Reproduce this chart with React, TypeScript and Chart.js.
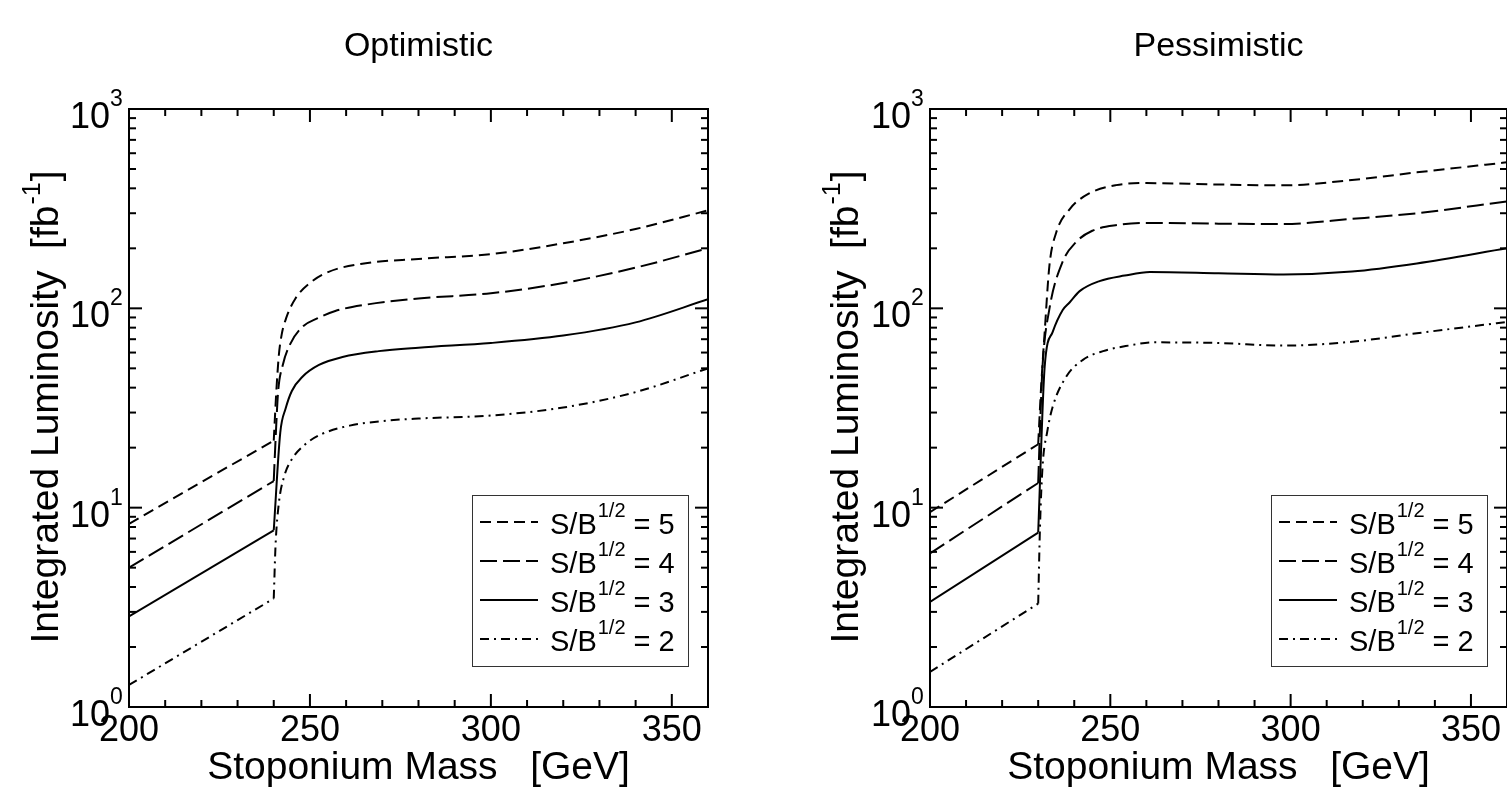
import React, { useEffect, useRef } from 'react';
import { Chart, registerables } from 'chart.js';

Chart.register(...registerables);

// ---- text / labels ----
const panelTitles = ['Optimistic', 'Pessimistic'];
const sbValues = ['5', '4', '3', '2'];
const xTickValues = [200, 250, 300, 350];
const xTickLabels = ['200', '250', '300', '350'];
const yTickExponents = [0, 1, 2, 3];
const xTitle = 'Stoponium Mass   [GeV]';
const yTitleMain = 'Integrated Luminosity  [fb';
const yTitleSup = '-1';

// ---- Optimistic panel (threshold near 240 GeV) ----
const optX5 = [200, 240, 240.7, 241.4, 242.2, 243.5, 246, 250, 255, 264, 280, 300, 320, 340, 360];
const optY5 = [8.3, 21.7, 38, 58, 74, 90, 112, 134, 152, 167, 177, 187, 212, 250, 310];
const optX4 = [200, 240, 240.6, 241.2, 242.5, 244.5, 248, 252, 257, 265, 280, 300, 320, 340, 360];
const optY4 = [5.0, 13.6, 24, 38, 52, 66, 81, 89, 97, 104, 112, 119, 134, 160, 200];
const optX3 = [200, 240, 241.8, 243.3, 245, 248, 252.5, 259, 269, 280, 300, 320, 340, 360];
const optY3 = [2.85, 7.7, 23.8, 31.5, 38.5, 45.5, 52, 57, 61, 63.5, 67, 73, 85, 111];
const optX2 = [200, 240, 240.5, 241.4, 242.8, 245, 249, 253.5, 261, 270, 280, 300, 320, 340, 360];
const optY2 = [1.29, 3.5, 6.5, 10.5, 14.2, 17.5, 21, 23.5, 25.8, 27.2, 28, 29, 31.8, 38, 50];

// ---- Pessimistic panel (threshold near 230 GeV) ----
const pesX5 = [200, 230, 230.8, 231.8, 233.1, 235, 238.7, 244, 251.6, 260, 280, 298, 317, 335, 360];
const pesY5 = [9.5, 20.8, 40, 76, 163, 240, 314, 376, 415, 425, 418, 414, 440, 481, 540];
const pesX4 = [200, 230, 230.6, 231.2, 233.1, 236.7, 240.5, 245, 252, 260, 280, 298, 317, 335, 360];
const pesY4 = [5.9, 13.3, 28, 51, 99, 170, 215, 245, 262, 268, 266, 265, 281, 300, 344];
const pesX3 = [200, 230, 231.8, 234, 236.8, 238.7, 241.5, 247, 254, 261, 280, 298, 317, 335, 360];
const pesY3 = [3.37, 7.5, 51, 76, 98, 107, 122, 137, 146, 152, 150, 148, 153, 168, 200];
const pesX2 = [200, 230, 230.5, 231.2, 232.5, 234, 237.8, 242.3, 248, 255, 262, 280, 298, 317, 335, 360];
const pesY2 = [1.5, 3.3, 8, 16, 24, 32, 45.5, 55, 61, 65, 67.5, 67, 65, 68, 75, 85.5];

const dashStyles: number[][] = [[11, 6], [17, 6], [], [9, 5, 2, 5]];

const FONT = '"Liberation Sans", Arial, Helvetica, sans-serif';

function makeDatasets(xs: number[][], ys: number[][]) {
  const out: any[] = [];
  xs.forEach((xArr, i) => {
    const pts = xArr.map((x, j) => ({ x, y: ys[i][j] }));
    const common = {
      borderColor: '#000',
      borderWidth: 2,
      borderDash: dashStyles[i],
      pointRadius: 0,
      fill: false,
    };
    // straight rise below threshold
    out.push({ ...common, label: 'S/B^1/2 = ' + sbValues[i] + ' (below)', data: pts.slice(0, 2), tension: 0 });
    // smooth curve from threshold on
    out.push({ ...common, label: 'S/B^1/2 = ' + sbValues[i], data: pts.slice(1), cubicInterpolationMode: 'monotone' });
  });
  return out;
}

function decorPlugin(title: string) {
  return {
    id: 'decor',
    afterDraw(chart: any) {
      const ctx: CanvasRenderingContext2D = chart.ctx;
      const { left, right, top, bottom } = chart.chartArea;
      const xs = chart.scales.x;
      const ys = chart.scales.y;
      ctx.save();
      ctx.strokeStyle = '#000';
      ctx.fillStyle = '#000';
      ctx.lineWidth = 2;
      ctx.setLineDash([]);
      ctx.strokeRect(left, top, right - left, bottom - top);
      const line = (x1: number, y1: number, x2: number, y2: number) => {
        ctx.beginPath();
        ctx.moveTo(x1, y1);
        ctx.lineTo(x2, y2);
        ctx.stroke();
      };
      // x ticks (inward, top and bottom)
      for (let v = xs.min; v <= xs.max + 0.001; v += 10) {
        const px = xs.getPixelForValue(v);
        const len = v % 50 === 0 ? 13 : 7;
        line(px, bottom, px, bottom - len);
        line(px, top, px, top + len);
      }
      // y ticks (inward, left and right)
      for (let e = 0; e < 3; e++) {
        for (let m = 1; m <= 9; m++) {
          const v = m * Math.pow(10, e);
          const py = ys.getPixelForValue(v);
          const len = m === 1 ? 13 : 7;
          line(left, py, left + len, py);
          line(right, py, right - len, py);
        }
      }
      // x tick labels
      ctx.font = `36px ${FONT}`;
      ctx.textAlign = 'center';
      ctx.textBaseline = 'alphabetic';
      xTickValues.forEach((v, i) => {
        ctx.fillText(xTickLabels[i], xs.getPixelForValue(v), bottom + 34);
      });
      // y tick labels 10^n
      yTickExponents.forEach((e) => {
        const py = ys.getPixelForValue(Math.pow(10, e));
        ctx.font = `23px ${FONT}`;
        ctx.textAlign = 'left';
        ctx.fillText(String(e), left - 19, py - 3);
        ctx.font = `36px ${FONT}`;
        ctx.textAlign = 'right';
        ctx.fillText('10', left - 19, py + 19);
      });
      // x title
      ctx.font = `39px ${FONT}`;
      ctx.textAlign = 'center';
      ctx.fillText(xTitle, (left + right) / 2, bottom + 72);
      // panel title
      ctx.font = `34px ${FONT}`;
      ctx.fillText(title, (left + right) / 2, 56);
      // y title
      ctx.save();
      ctx.translate(58, (top + bottom) / 2);
      ctx.rotate(-Math.PI / 2);
      ctx.font = `39px ${FONT}`;
      const wMain = ctx.measureText(yTitleMain).width;
      ctx.font = `25px ${FONT}`;
      const wSup = ctx.measureText(yTitleSup).width;
      ctx.font = `39px ${FONT}`;
      const wEnd = ctx.measureText(']').width;
      const total = wMain + wSup + wEnd;
      const x0 = -total / 2;
      ctx.textAlign = 'left';
      ctx.fillText(yTitleMain, x0, 0);
      ctx.font = `25px ${FONT}`;
      ctx.fillText(yTitleSup, x0 + wMain + 1, -18);
      ctx.font = `39px ${FONT}`;
      ctx.fillText(']', x0 + wMain + wSup + 2, 0);
      ctx.restore();

      // legend
      const bx = right - 236;
      const by = bottom - 212;
      const bw = 216;
      const bh = 171;
      ctx.lineWidth = 1;
      ctx.strokeStyle = '#333';
      ctx.strokeRect(bx + 0.5, by + 0.5, bw, bh);
      ctx.strokeStyle = '#000';
      sbValues.forEach((val, i) => {
        const cy = by + 27 + i * 39;
        ctx.lineWidth = 2;
        ctx.setLineDash(dashStyles[i]);
        line(bx + 8, cy, bx + 66, cy);
        ctx.setLineDash([]);
        const tx = bx + 78;
        const base = cy + 12;
        ctx.textAlign = 'left';
        ctx.font = `29px ${FONT}`;
        ctx.fillText('S/B', tx, base);
        const w1 = ctx.measureText('S/B').width;
        ctx.font = `20px ${FONT}`;
        ctx.fillText('1/2', tx + w1 + 1, base - 17);
        const w2 = ctx.measureText('1/2').width;
        ctx.font = `29px ${FONT}`;
        ctx.fillText(' = ' + val, tx + w1 + 1 + w2, base);
      });
      ctx.restore();
    },
  };
}

function Panel(props: { title: string; xs: number[][]; ys: number[][]; left: number; pad: any }) {
  const ref = useRef<HTMLCanvasElement>(null);
  useEffect(() => {
    if (!ref.current) return;
    const chart = new Chart(ref.current, {
      type: 'line',
      data: { datasets: makeDatasets(props.xs, props.ys) as any },
      options: {
        responsive: false,
        animation: false,
        devicePixelRatio: 1,
        layout: { padding: props.pad },
        plugins: { legend: { display: false }, tooltip: { enabled: false } },
        scales: {
          x: { type: 'linear', min: 200, max: 360, display: false },
          y: { type: 'logarithmic', min: 1, max: 1000, display: false },
        },
      },
      plugins: [decorPlugin(props.title)],
    });
    return () => chart.destroy();
  }, []);
  return (
    <canvas
      ref={ref}
      width={760}
      height={787}
      style={{ position: 'absolute', left: props.left, top: 0, width: 760, height: 787 }}
    />
  );
}

export default function App() {
  useEffect(() => {
    document.body.style.overflow = 'hidden';
  }, []);
  return (
    <div
      style={{
        position: 'absolute',
        left: 0,
        top: 0,
        width: 1507,
        height: 787,
        overflow: 'hidden',
        background: '#fff',
      }}
    >
      <Panel
        title={panelTitles[0]}
        xs={[optX5, optX4, optX3, optX2]}
        ys={[optY5, optY4, optY3, optY2]}
        left={0}
        pad={{ left: 129, top: 109, right: 52, bottom: 80 }}
      />
      <Panel
        title={panelTitles[1]}
        xs={[pesX5, pesX4, pesX3, pesX2]}
        ys={[pesY5, pesY4, pesY3, pesY2]}
        left={800}
        pad={{ left: 130, top: 109, right: 53, bottom: 80 }}
      />
    </div>
  );
}
